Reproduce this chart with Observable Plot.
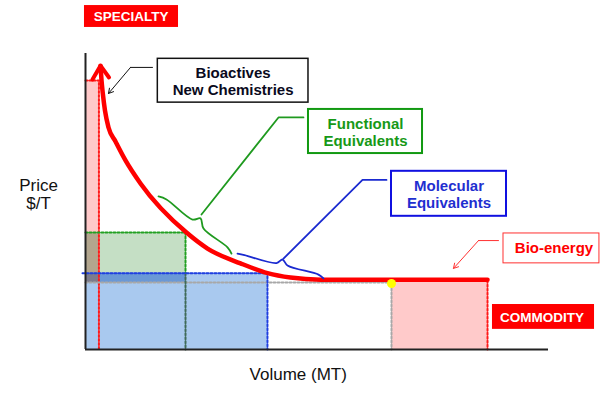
<!DOCTYPE html>
<html><head><meta charset="utf-8">
<script src="https://cdn.jsdelivr.net/npm/d3@7"></script>
<script src="https://cdn.jsdelivr.net/npm/@observablehq/plot@0.6"></script>
<style>html,body{margin:0;padding:0;background:#fff;overflow:hidden}</style>
</head><body><div id="chart"></div>
<script>
// Conceptual units: Volume 0–100 (x), Price 0–100 (y)
const curveVolume = [3.24,3.46,3.74,4.21,4.97,6.48,8.64,11.88,21.81,26.35,33.48,39.31,44.28,50.76,68.03,86.83];
const curvePrice  = [95.9,90.9,86.5,80.7,75.0,70.3,63.9,56.1,39.5,34.1,29.1,25.8,24.3,23.6,23.6,23.6];
const arrowHeadVolume = [1.51,3.24,5.08];
const arrowHeadPrice  = [91.2,95.9,91.9];

// segment boundaries
const specialtyVol = 2.9, functionalVol = 21.6, molecularVol = 39.3, bioStartVol = 66.09, bioEndVol = 86.83;
const specialtyTop = 90.9, functionalTop = 39.5, molecularTop = 25.8, commodityPrice = 22.6, bioTop = 23.2;

// braces
const greenBraceVol   = [15.77,17.49,23.11,24.84,25.49,30.67,31.53];
const greenBracePrice = [51.7,50.7,43.9,44.3,40.9,34.5,32.4];
const blueBraceVol    = [32.83,34.34,41.25,42.55,43.63,50.32,51.40];
const blueBracePrice  = [32.4,31.9,29.2,30.4,28.4,25.3,24.0];

// leaders
const greenLeaderVol = [25.05,41.68,47.08], greenLeaderPrice = [45.6,78.4,78.4];
const blueLeaderVol  = [42.76,59.83,65.01], blueLeaderPrice  = [30.7,57.3,57.3];
const bioactLeaderVol = [14.47,9.72,4.97], bioactLeaderPrice = [95.3,95.3,86.5];
const bioenLeaderVol  = [89.20,84.88,79.48], bioenLeaderPrice = [36.8,36.8,27.4];

// labels
const labels = [
  {id:"bioact", text:"Bioactives\nNew Chemistries", x:31.88, y:90.8, x1:15.62, x2:48.16, y1:83.4, y2:98.2},
  {id:"func", text:"Functional\nEquivalents", x:60.48, y:73.6, x1:48.16, x2:72.79, y1:66.2, y2:81.1},
  {id:"mol", text:"Molecular\nEquivalents", x:78.51, y:52.6, x1:66.09, x2:90.93, y1:45.0, y2:60.2},
  {id:"bio", text:"Bio-energy", x:101.19, y:34.5, x1:90.28, x2:111.0, y1:29.1, y2:39.2},
  {id:"spec", text:"SPECIALTY", x:9.83, y:112.5, x1:-0.22, x2:20.09, y1:108.8, y2:116.2},
  {id:"comm", text:"COMMODITY", x:98.6, y:11.0, x1:87.9, x2:109.94, y1:6.8, y2:15.2}
];
const axisLabels = [
  {text:"Price\n$/T", x:-10.15, y:52.5},
  {text:"Volume (MT)", x:45.94, y:-8.4}
];

const pairs = (xs, ys) => xs.map((x, i) => [x, ys[i]]);
const L = id => labels.filter(d => d.id === id);
const box = (id, o) => Plot.rect(L(id), {x1:"x1", x2:"x2", y1:"y1", y2:"y2", ...o});
const lab = (id, o) => Plot.text(L(id), {x:"x", y:"y", text:"text", fontWeight:"bold", fontSize:15, lineHeight:1.15, ...o});
const dotted = (pts, stroke) => Plot.line(pts, {stroke, strokeWidth:2, strokeDasharray:"2,2"});
const block = (x1, x2, y1, y2, fill) => Plot.rect([{x1, x2, y1, y2}], {x1:"x1", x2:"x2", y1:"y1", y2:"y2", fill});

const chart = Plot.plot({
  width: 600, height: 395, margin: 0,
  style: {fontFamily: "Liberation Sans, Arial, sans-serif", background: "#fff"},
  x: {domain: [0, 100], range: [85, 548], axis: null},
  y: {domain: [0, 100], range: [349, 53], axis: null},
  marks: [
    // filled blocks
    block(0, molecularVol, 0, molecularTop, "#a9c9ef"),
    block(0, functionalVol, molecularTop, functionalTop, "#c5dfc5"),
    block(0, functionalVol, commodityPrice, molecularTop, "#6a98d6"),
    block(0, specialtyVol, functionalTop, specialtyTop, "#ffc9c9"),
    block(0, specialtyVol, molecularTop, functionalTop, "#b3a68e"),
    block(0, specialtyVol, commodityPrice, molecularTop, "#7c7c8c"),
    block(bioStartVol, bioEndVol, 0, bioTop, "#ffcaca"),
    // dotted outlines
    dotted([[0, specialtyTop], [specialtyVol, specialtyTop], [specialtyVol, 0]], "#ff1a1a"),
    dotted([[0, commodityPrice], [bioStartVol, commodityPrice], [bioStartVol, 0]], "#a8a8a8"),
    dotted([[0, functionalTop], [functionalVol, functionalTop], [functionalVol, molecularTop]], "#22a022"),
    dotted([[functionalVol, molecularTop], [functionalVol, 0]], "#3f6a58"),
    dotted([[-0.65, molecularTop], [molecularVol, molecularTop], [molecularVol, 0]], "#1f3fe0"),
    dotted([[bioEndVol, bioTop], [bioEndVol, 0]], "#ff1a1a"),
    // axes
    Plot.ruleX([0], {y1: 0, y2: 100, stroke: "#222", strokeWidth: 2}),
    Plot.ruleY([0], {x1: 0, x2: 100, stroke: "#222", strokeWidth: 2}),
    // demand curve
    Plot.line(pairs(curveVolume, curvePrice), {stroke: "#ff0000", strokeWidth: 4.5, curve: "monotone-x"}),
    Plot.line(pairs(arrowHeadVolume, arrowHeadPrice), {stroke: "#ff0000", strokeWidth: 4, strokeLinejoin: "miter"}),
    Plot.dot([[bioStartVol, 22.3]], {r: 4.5, fill: "#ffff00"}),
    // braces
    Plot.line(pairs(greenBraceVol, greenBracePrice), {stroke: "#1f9a1f", strokeWidth: 1.8, curve: "catmull-rom"}),
    Plot.line(pairs(blueBraceVol, blueBracePrice), {stroke: "#1a2ad0", strokeWidth: 1.8, curve: "catmull-rom"}),
    // leaders
    Plot.line(pairs(greenLeaderVol, greenLeaderPrice), {stroke: "#1f9a1f", strokeWidth: 1.8}),
    Plot.line(pairs(blueLeaderVol, blueLeaderPrice), {stroke: "#1a2ad0", strokeWidth: 1.8}),
    Plot.line(pairs(bioactLeaderVol.slice(0, 2), bioactLeaderPrice.slice(0, 2)), {stroke: "#111", strokeWidth: 1}),
    Plot.arrow([{x1: bioactLeaderVol[1], y1: bioactLeaderPrice[1], x2: bioactLeaderVol[2], y2: bioactLeaderPrice[2]}], {x1: "x1", y1: "y1", x2: "x2", y2: "y2", stroke: "#111", strokeWidth: 1, headLength: 8}),
    Plot.line(pairs(bioenLeaderVol.slice(0, 2), bioenLeaderPrice.slice(0, 2)), {stroke: "#ff3030", strokeWidth: 1}),
    Plot.arrow([{x1: bioenLeaderVol[1], y1: bioenLeaderPrice[1], x2: bioenLeaderVol[2], y2: bioenLeaderPrice[2]}], {x1: "x1", y1: "y1", x2: "x2", y2: "y2", stroke: "#ff3030", strokeWidth: 1, headLength: 8}),
    // boxes
    box("bioact", {fill: "#fff", stroke: "#111", strokeWidth: 1.5}),
    box("func", {fill: "#fff", stroke: "#119911", strokeWidth: 2}),
    box("mol", {fill: "#fff", stroke: "#1010e0", strokeWidth: 2}),
    box("bio", {fill: "#fff", stroke: "#ff3030", strokeWidth: 1}),
    box("spec", {fill: "#ff0000"}),
    box("comm", {fill: "#ff0000"}),
    // labels
    lab("bioact", {fill: "#0a0a20"}),
    lab("func", {fill: "#179917"}),
    lab("mol", {fill: "#1f2fd0"}),
    lab("bio", {fill: "#ff0000"}),
    lab("spec", {fill: "#fff", fontSize: 13.5}),
    lab("comm", {fill: "#fff", fontSize: 13.5}),
    Plot.text(axisLabels, {x: "x", y: "y", text: "text", fontSize: 17, lineHeight: 1.05, fill: "#111"})
  ]
});
document.getElementById("chart").appendChild(chart);
</script>
</body></html>
